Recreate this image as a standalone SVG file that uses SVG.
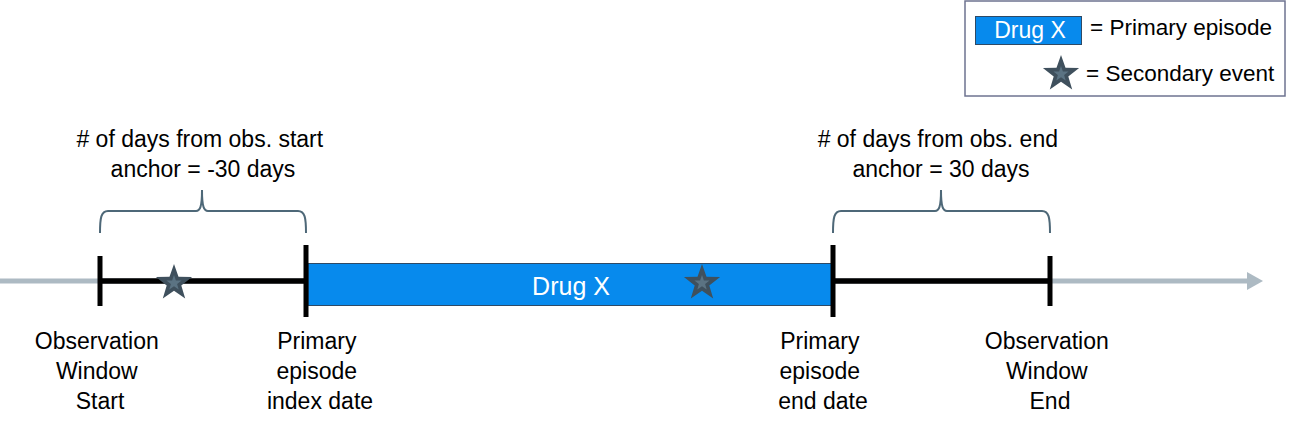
<svg xmlns="http://www.w3.org/2000/svg" width="1302" height="432" viewBox="0 0 1302 432">
<style>
text{font-family:"Liberation Sans",Arial,sans-serif;fill:#000;}
.lbl{font-size:23px;text-anchor:middle;}
.leg{font-size:22.5px;}
.brace{fill:none;stroke:#4E6878;stroke-width:2;}
.tick{stroke:#000;stroke-width:5;}
.star{fill:#3F505D;}
.stari{fill:#5B7383;}
</style>
<defs>
<g id="starshape">
<polygon class="star" points="0,-19 4.5,-6.2 18.1,-5.9 7.3,2.4 11.2,15.4 0,7.7 -11.2,15.4 -7.3,2.4 -18.1,-5.9 -4.5,-6.2"/>
<polygon class="stari" points="0,-8 1.9,-2.6 7.6,-2.5 3.1,1 4.7,6.5 0,3.2 -4.7,6.5 -3.1,1 -7.6,-2.5 -1.9,-2.6"/>
</g>
</defs>
<g id="legend">
<rect x="965" y="1" width="320" height="95" fill="#fff" stroke="#6E7390" stroke-width="1.5"/>
<rect x="975.5" y="16.5" width="106" height="28" fill="#078AED" stroke="#2E4A66" stroke-width="1"/>
<text x="1030" y="38" font-size="23" text-anchor="middle" style="fill:#fff">Drug X</text>
<text class="leg" x="1090" y="35">= Primary episode</text>
<use href="#starshape" x="1061" y="74"/>
<text class="leg" x="1086" y="81">= Secondary event</text>
</g>
<g id="connectors">
<line x1="0" y1="281" x2="1250" y2="281" stroke="#ADBAC3" stroke-width="5"/>
<polygon points="1247,272 1263,281 1247,290" fill="#ADBAC3"/>
<line x1="100" y1="281" x2="1050" y2="281" stroke="#000" stroke-width="5.5"/>
<path class="brace" d="M100,233 C100,218 101,211 108,211 L196,211 C200,211 202,207 202,190 C202,207 204,211 208,211 L298,211 C305,211 306,218 306,233"/>
<path class="brace" d="M833,233 C833,218 834,211 841,211 L935,211 C939,211 941,207 941,190 C941,207 943,211 947,211 L1042,211 C1049,211 1050,218 1050,233"/>
</g>
<g id="drug-x">
<rect x="308" y="263.5" width="524" height="42" fill="#078AED" stroke="#2E4A66" stroke-width="1"/>
<text x="571" y="295" font-size="25" text-anchor="middle" style="fill:#fff">Drug X</text>
</g>
<g id="ticks">
<line class="tick" x1="100" y1="256" x2="100" y2="306"/>
<line class="tick" x1="306" y1="245" x2="306" y2="317"/>
<line class="tick" x1="833" y1="245" x2="833" y2="317"/>
<line class="tick" x1="1050" y1="256" x2="1050" y2="306"/>
</g>
<g id="events">
<use href="#starshape" x="174" y="283"/>
<use href="#starshape" x="702" y="283"/>
</g>
<g id="label-start-anchor">
<text class="lbl">
<tspan x="203" y="147"># of days from obs. start</tspan>
<tspan x="203" y="177">anchor = -30 days</tspan>
</text>
</g>
<g id="label-end-anchor">
<text class="lbl">
<tspan x="941" y="147"># of days from obs. end</tspan>
<tspan x="941" y="177">anchor = 30 days</tspan>
</text>
</g>
<g id="label-obs-start">
<text class="lbl">
<tspan x="100" y="349">Observation</tspan>
<tspan x="100" y="379">Window</tspan>
<tspan x="100" y="409">Start</tspan>
</text>
</g>
<g id="label-index">
<text class="lbl">
<tspan x="320" y="349">Primary</tspan>
<tspan x="320" y="379">episode</tspan>
<tspan x="320" y="409">index date</tspan>
</text>
</g>
<g id="label-end-date">
<text class="lbl">
<tspan x="823" y="349">Primary</tspan>
<tspan x="823" y="379">episode</tspan>
<tspan x="823" y="409">end date</tspan>
</text>
</g>
<g id="label-obs-end">
<text class="lbl">
<tspan x="1050" y="349">Observation</tspan>
<tspan x="1050" y="379">Window</tspan>
<tspan x="1050" y="409">End</tspan>
</text>
</g>
</svg>
